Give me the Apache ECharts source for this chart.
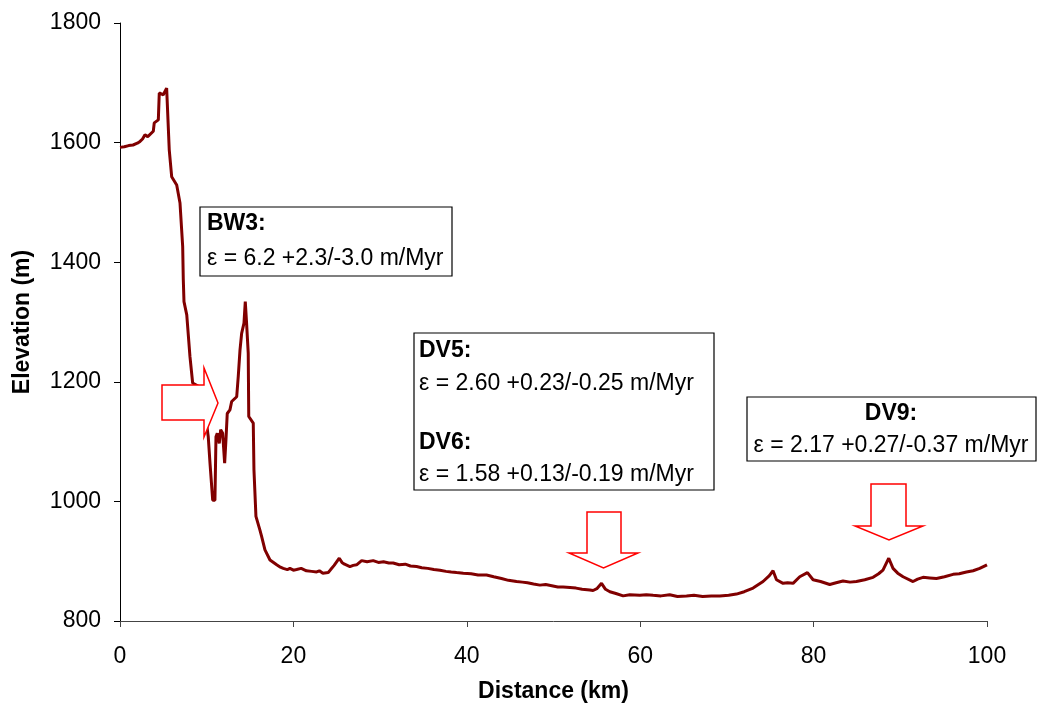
<!DOCTYPE html>
<html>
<head>
<meta charset="utf-8">
<script src="https://cdn.jsdelivr.net/npm/echarts@6/dist/echarts.min.js"></script>
<style>
  html, body { margin: 0; padding: 0; background: #fff; }
  #chart { width: 1039px; height: 709px; }
</style>
</head>
<body>
<div id="chart"></div>
<script>
// Elevation profile along the transect (distance in km, elevation in m)
const distanceKm = [
  0, 0.5, 1.0, 1.5, 2.0, 2.31, 2.6, 2.88, 3.2, 3.4, 3.84, 3.95, 4.42, 4.53, 4.99, 5.19, 5.38, 5.57,
  5.68, 5.96, 6.54, 6.92, 7.23, 7.3, 7.38, 7.7, 8.07, 8.38, 9.0, 9.8, 10.18, 10.38, 10.69, 10.95,
  11.07, 11.22, 11.45, 11.61, 11.84, 12.07, 12.22, 12.37, 12.68, 12.88, 13.46, 13.64, 13.84, 14.03,
  14.3, 14.45, 14.6, 14.79, 14.85, 15.37, 15.45,
  15.68, 16.14, 16.34, 16.72, 17.3, 18.07, 18.5, 18.83, 19.3, 19.6, 20.0, 20.37, 20.9, 21.5, 22.1,
  22.68, 23.0, 23.4, 24.02, 24.3, 24.7,
  25.29, 25.6, 25.9, 26.52, 26.9, 27.29, 27.87, 28.5, 29.2, 29.8, 30.4, 31.0, 31.51, 32.2, 32.9,
  33.5, 34.21, 34.8, 35.5, 36.2, 36.9, 37.6, 38.2, 38.82, 39.6,
  40.5, 41.3, 42.28, 43.1, 44.0, 44.8, 45.74, 46.4, 47.0, 47.7, 48.43, 49.1, 49.8, 50.5, 51.11,
  51.9, 52.6, 53.3, 54.19, 54.57, 55.0,
  55.54, 56.0, 56.5, 57.2, 58.03, 58.8, 59.96, 60.7, 61.49, 62.4, 63.4, 64.3, 65.34, 66.2, 67.2,
  68.2, 69.18, 70.2, 71.1,
  72.0, 73.02, 74.17, 74.9, 75.32, 75.72, 76.48, 77.0, 77.63, 78.4, 79.29, 79.94, 80.8, 81.86,
  82.6, 83.39, 84.2, 84.94, 85.9, 86.86, 87.5, 88.0, 88.67, 89.16, 89.7, 90.32, 91.47, 92.0,
  92.62, 93.4, 94.17, 95.1, 96.09, 96.8, 97.63, 98.4, 99.16, 100
];
const elevationM = [
  1592, 1593, 1595, 1596, 1599, 1602, 1606, 1613, 1610, 1612, 1619, 1633, 1638, 1683, 1680, 1677, 1691, 1688,
  1588, 1543, 1529, 1499, 1426, 1371, 1334, 1312, 1242, 1198, 1193, 1150, 1108, 1064, 1002, 1002,
  1108, 1114, 1097, 1120, 1114, 1064, 1103, 1147, 1153, 1167, 1175, 1209, 1253, 1281,
  1298, 1334, 1298, 1248, 1142, 1131, 1053,
  975, 952, 941, 919, 902, 894, 890, 888, 886, 888, 885, 886, 888, 884, 883,
  882, 884, 880, 881, 886, 893,
  905, 898, 895, 891, 893, 894, 901, 899, 901, 898, 899, 897, 897, 894, 895,
  892, 891, 889, 888, 886, 885, 883, 882, 881, 880,
  879, 877, 877, 874, 871, 868, 866, 865, 864, 862, 860, 861, 859, 857, 857,
  856, 855, 853, 852, 851, 854,
  863, 853, 849, 846, 842, 844, 843, 844, 843, 842, 844, 841, 842, 843, 841,
  842, 842, 843, 845,
  849, 855, 866, 876, 884, 869, 863, 864, 863, 874, 881, 869, 866, 861,
  864, 867, 865, 866, 869, 873, 879, 885, 905, 888, 880, 874, 866, 870,
  873, 872, 871, 874, 878, 879, 882, 884, 888, 894
];

// Axis ticks
const xTicks = { min: 0, max: 100, interval: 20 };
const yTicks = { min: 800, max: 1800, interval: 200 };

// Annotation texts: sample name and erosion rate
const noteBW3 = ['BW3:', 'ε = 6.2 +2.3/-3.0 m/Myr'];
const noteDV5 = ['DV5:', 'ε = 2.60 +0.23/-0.25 m/Myr'];
const noteDV6 = ['DV6:', 'ε = 1.58 +0.13/-0.19 m/Myr'];
const noteDV9 = ['DV9:', 'ε = 2.17 +0.27/-0.37 m/Myr'];

const FONT = '"Liberation Sans", Arial, sans-serif';
const n = Math.min(distanceKm.length, elevationM.length);
const profile = distanceKm.slice(0, n).map((d, i) => [d, elevationM[i]]);

const chart = echarts.init(document.getElementById('chart'), null, { renderer: 'canvas' });

const txt = (x, y, s, bold, align) => ({
  type: 'text', z: 101, x: x, y: y,
  style: {
    text: s, fill: '#000', font: (bold ? 'bold ' : '') + '23px ' + FONT,
    textAlign: align || 'left', textVerticalAlign: 'middle'
  }
});
const box = (x, y, w, h) => ({
  type: 'rect', z: 100, shape: { x: x, y: y, width: w, height: h },
  style: { fill: '#fff', stroke: '#000', lineWidth: 1.2 }
});
const arrow = (pts) => ({
  type: 'polygon', z: 100, shape: { points: pts },
  style: { fill: '#fff', stroke: '#ff0000', lineWidth: 1.5 }
});

chart.setOption({
  animation: false,
  backgroundColor: '#fff',
  grid: { left: 120, right: 52, top: 23, bottom: 88, containLabel: false },
  xAxis: {
    type: 'value', min: xTicks.min, max: xTicks.max, interval: xTicks.interval,
    name: 'Distance (km)', nameLocation: 'middle', nameGap: 59,
    nameTextStyle: { fontFamily: FONT, fontWeight: 'bold', fontSize: 23, color: '#000' },
    axisLine: { onZero: false, lineStyle: { color: '#444', width: 1 } },
    axisTick: { show: true, inside: false, length: 6, lineStyle: { color: '#444' } },
    axisLabel: { fontFamily: FONT, fontSize: 23, color: '#000', margin: 24 },
    splitLine: { show: false }
  },
  yAxis: {
    type: 'value', min: yTicks.min, max: yTicks.max, interval: yTicks.interval,
    name: 'Elevation (m)', nameLocation: 'middle', nameGap: 86, nameRotate: 90,
    nameTextStyle: { fontFamily: FONT, fontWeight: 'bold', fontSize: 23, color: '#000' },
    axisLine: { show: true, lineStyle: { color: '#000', width: 1 } },
    axisTick: { show: true, inside: false, length: 6, lineStyle: { color: '#000' } },
    axisLabel: { fontFamily: FONT, fontSize: 23, color: '#000', margin: 19, formatter: v => String(v) },
    splitLine: { show: false }
  },
  series: [{
    type: 'line', data: profile, showSymbol: false, smooth: false,
    lineStyle: { color: '#800000', width: 3 }, z: 2
  }],
  graphic: [
    arrow([[162, 385], [204, 385], [204, 368], [218, 403], [204, 437], [204, 420], [162, 420]]),
    arrow([[587, 512], [621, 512], [621, 553], [638, 553], [603.5, 568], [569, 553], [587, 553]]),
    arrow([[871, 484], [906, 484], [906, 526], [923, 526], [889, 540], [855, 526], [871, 526]]),
    box(200, 207, 252, 69),
    txt(207, 224, noteBW3[0], true),
    txt(207, 259, noteBW3[1], false),
    box(414, 333, 300, 157),
    txt(419, 351, noteDV5[0], true),
    txt(419, 384, noteDV5[1], false),
    txt(419, 443, noteDV6[0], true),
    txt(419, 475, noteDV6[1], false),
    box(747, 397, 289, 64),
    txt(891, 414, noteDV9[0], true, 'center'),
    txt(891, 446, noteDV9[1], false, 'center')
  ]
});
</script>
</body>
</html>
